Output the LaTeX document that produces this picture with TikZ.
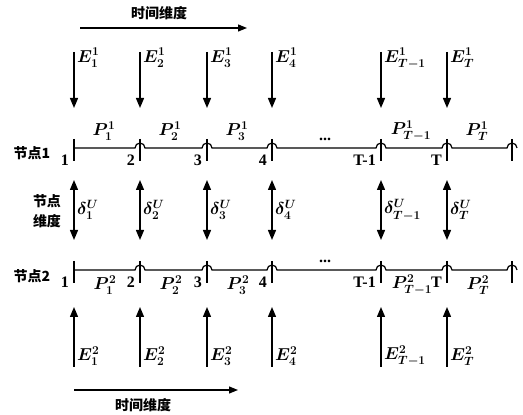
\documentclass[tikz,border=0pt]{standalone}
\usepackage{fontspec}
\setmainfont{Liberation Serif}
\newfontfamily\cjk{Noto Sans CJK SC}
\usetikzlibrary{arrows.meta,calc}

\begin{document}
\begin{tikzpicture}[x=1pt,y=1pt,
  ar/.style={-{Triangle[length=10pt,width=8pt]},line width=1.4pt},
  dar/.style={{Triangle[length=10pt,width=8pt]}-{Triangle[length=10pt,width=8pt]},line width=1.4pt},
  tar/.style={-{Triangle[length=9pt,width=7pt]},line width=1.2pt},
  ln/.style={line width=1.2pt},
  lab/.style={font=\fontsize{18}{20}\selectfont\boldmath,inner sep=1pt},
  num/.style={font=\fontsize{16}{18}\selectfont\bfseries,inner sep=1pt},
  zh/.style={font=\fontsize{14}{20}\selectfont\cjk\bfseries,align=center,inner sep=1pt}]
\useasboundingbox (0,0) rectangle (523,415);
% column positions
\foreach \i/\x in {1/74,2/140,3/207,4/272,5/381,6/447,7/512}{
  \coordinate (a\i) at (\x,267);  \coordinate (b\i) at (\x,145);
  \coordinate (t\i) at (\x,363);  \coordinate (u\i) at (\x,307);
  \coordinate (dt\i) at (\x,235); \coordinate (db\i) at (\x,175);
  \coordinate (dm\i) at (\x,205);
  \coordinate (f\i) at (\x,108);  \coordinate (g\i) at (\x,48);
}
% time axes
\coordinate (ts) at (80,387); \coordinate (te) at (247,387);
\coordinate (bs) at (74,25);  \coordinate (be) at (238,25);
\draw[tar] (ts) -- (te);
\draw[tar] (bs) -- (be);
\node[zh] (time1) at (159,402) {时间维度};
\node[zh] (time2) at (143,10) {时间维度};
% node lines with hops
\draw[ln] (a1) -- ([xshift=-5pt]a2) arc[start angle=180,end angle=0,radius=5pt]
  -- ([xshift=-5pt]a3) arc[start angle=180,end angle=0,radius=5pt]
  -- ([xshift=-5pt]a4) arc[start angle=180,end angle=0,radius=5pt]
  -- ([xshift=-5pt]a5) arc[start angle=180,end angle=0,radius=5pt]
  -- ([xshift=-5pt]a6) arc[start angle=180,end angle=0,radius=5pt]
  -- ([xshift=-5pt]a7) arc[start angle=180,end angle=0,radius=5pt];
\draw[ln] (b1) -- ([xshift=-5pt]b2) arc[start angle=180,end angle=0,radius=5pt]
  -- ([xshift=-5pt]b3) arc[start angle=180,end angle=0,radius=5pt]
  -- ([xshift=-5pt]b4) arc[start angle=180,end angle=0,radius=5pt]
  -- ([xshift=-5pt]b5) arc[start angle=180,end angle=0,radius=5pt]
  -- ([xshift=-5pt]b6) arc[start angle=180,end angle=0,radius=5pt]
  -- ([xshift=-5pt]b7) arc[start angle=180,end angle=0,radius=5pt];
\foreach \i in {1,...,7}{
  \draw[ln] ([yshift=9pt]a\i) -- ([yshift=-13pt]a\i);
  \draw[ln] ([yshift=9pt]b\i) -- ([yshift=-13pt]b\i);
}
\node[zh] (node1) at (32,262) {节点1};
\node[zh] (node2) at (32,139) {节点2};
\node[zh] (nodedim) at (47,204) {节点\\维度};
\node[num] (dots1) at (325,276) {...};
\node[num] (dots2) at (325,154) {...};
% arrows and labels per period
\foreach \i/\s in {1/1,2/2,3/3,4/4,5/T-1,6/T}{
  \draw[ar] (t\i) -- (u\i);
  \draw[dar] (dt\i) -- (db\i);
  \draw[ar] (g\i) -- (f\i);
  \node[lab,anchor=north west] (E1\i) at ([shift={(2pt,5pt)}]t\i) {$E_{\s}^{1}$};
  \node[lab,anchor=west] (D\i) at ([xshift=2pt]dm\i) {$\delta_{\s}^{U}$};
  \node[lab,anchor=west] (E2\i) at ([shift={(2pt,11pt)}]g\i) {$E_{\s}^{2}$};
  \node[num,anchor=east] (n1\i) at ([shift={(-4pt,-12pt)}]a\i) {\s};
  \node[num,anchor=east] (n2\i) at ([shift={(-4pt,-12pt)}]b\i) {\s};
}
\foreach \i/\s in {1/1,2/2,3/3,5/T-1,6/T}{
  \node[lab] (P1\i) at ([shift={(30pt,17pt)}]a\i) {$P_{\s}^{1}$};
  \node[lab] (P2\i) at ([shift={(31pt,-15pt)}]b\i) {$P_{\s}^{2}$};
}
\end{tikzpicture}
\end{document}
